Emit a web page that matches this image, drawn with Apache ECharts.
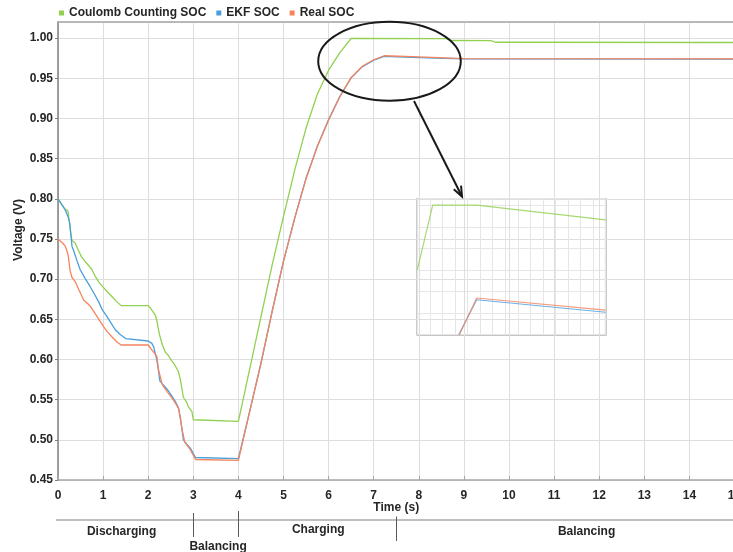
<!DOCTYPE html>
<html><head><meta charset="utf-8">
<script src="https://cdn.jsdelivr.net/npm/echarts@6/dist/echarts.min.js"></script>
<style>html,body{margin:0;padding:0;background:#fff}#c{width:733px;height:552px}</style>
</head><body><div id="c"></div>
<script>
// ---- data ----
const seriesNames = ['Coulomb Counting SOC', 'EKF SOC', 'Real SOC'];
const ccTime = [0,0.08,0.16,0.22,0.25,0.28,0.31,0.38,0.45,0.52,0.6,0.68,0.75,0.83,0.92,1.0,1.1,1.2,1.3,1.4,2.0,2.05,2.1,2.16,2.2,2.25,2.31,2.38,2.45,2.5,2.58,2.67,2.72,2.78,2.85,2.9,2.97,3.0,4.0,4.25,4.5,4.75,5.0,5.25,5.5,5.75,6.0,6.25,6.5,8.6,8.7,9.6,9.7,15];
const ccSOC = [0.80,0.793,0.787,0.785,0.772,0.758,0.748,0.745,0.736,0.728,0.722,0.717,0.712,0.703,0.695,0.69,0.684,0.678,0.672,0.667,0.667,0.664,0.66,0.655,0.646,0.631,0.619,0.609,0.605,0.60,0.594,0.585,0.573,0.553,0.547,0.54,0.535,0.525,0.523,0.588,0.653,0.718,0.778,0.836,0.888,0.93,0.960,0.982,0.9995,0.9992,0.997,0.9968,0.9948,0.9945];
const ekfTime = [0,0.08,0.16,0.22,0.26,0.31,0.35,0.42,0.49,0.6,0.7,0.79,0.9,0.98,1.08,1.18,1.27,1.38,1.5,2.0,2.08,2.12,2.19,2.23,2.26,2.34,2.42,2.53,2.6,2.67,2.72,2.78,2.85,2.93,3.05,4.0,4.25,4.5,4.75,5.0,5.25,5.5,5.75,6.0,6.25,6.5,6.75,7.0,7.23,8.0,9.0,15];
const ekfSOC = [0.80,0.793,0.786,0.778,0.77,0.741,0.735,0.723,0.712,0.701,0.692,0.683,0.672,0.662,0.654,0.645,0.637,0.631,0.626,0.623,0.62,0.616,0.60,0.585,0.573,0.568,0.563,0.554,0.548,0.54,0.525,0.50,0.495,0.49,0.478,0.4765,0.5355,0.5955,0.6605,0.7225,0.7765,0.8255,0.8655,0.8985,0.9275,0.9505,0.9645,0.9725,0.9772,0.9757,0.9742,0.9738];
const realTime = [0,0.1,0.16,0.2,0.23,0.27,0.31,0.38,0.46,0.57,0.65,0.72,0.86,1.01,1.1,1.2,1.3,1.4,2.0,2.08,2.15,2.19,2.23,2.31,2.42,2.53,2.6,2.68,2.75,2.81,2.93,3.05,4.0,4.25,4.5,4.75,5.0,5.25,5.5,5.75,6.0,6.25,6.5,6.75,7.0,7.23,8.0,9.0,15];
const realSOC = [0.75,0.745,0.741,0.735,0.728,0.71,0.702,0.697,0.687,0.674,0.670,0.666,0.654,0.641,0.634,0.628,0.622,0.618,0.618,0.612,0.607,0.604,0.587,0.569,0.56,0.552,0.546,0.538,0.513,0.497,0.488,0.4755,0.4745,0.535,0.595,0.66,0.722,0.776,0.825,0.865,0.898,0.927,0.951,0.965,0.973,0.978,0.9765,0.9745,0.974];
// zoomed inset (detail of the circled region)
const insetCCTime = [6.2,6.445,7.146,9.2];
const insetCCSOC = [0.985,1.0,1.0,0.9966];
const insetEKFTime = [6.86,7.146,9.2];
const insetEKFSOC = [0.97,0.9781,0.9752];
const insetRealTime = [6.869,7.146,9.2];
const insetRealSOC = [0.97,0.9785,0.9757];
// phases shown under the time axis
const phaseBounds = [3, 4, 7.5];
const phaseNames = ['Discharging', 'Balancing', 'Charging', 'Balancing'];
const phaseLabelTime = [1.41, 3.55, 5.77, 11.72];

const colors = ['#92d050', '#4a9ede', '#f5845c'];
const font = "'Liberation Sans', Arial, sans-serif";
const zip = (a, b) => a.map((t, i) => [t, b[i]]);

const chart = echarts.init(document.getElementById('c'), null, {renderer: 'canvas'});
const lbl = {fontFamily: font, fontWeight: 'bold', fontSize: 12, color: '#262626'};

const mainLine = (name, data, c) => ({
  name, type: 'line', data, xAxisIndex: 0, yAxisIndex: 0, showSymbol: false,
  lineStyle: {color: c, width: 1.3}, itemStyle: {color: c}, animation: false
});
const insetLine = (name, data, c) => ({
  name, type: 'line', data, xAxisIndex: 2, yAxisIndex: 1, showSymbol: false,
  lineStyle: {color: c, width: 1.2, opacity: 0.8}, itemStyle: {color: c}, animation: false, silent: true
});

chart.setOption({
  animation: false,
  backgroundColor: '#fff',
  color: colors,
  legend: {
    data: seriesNames, left: 59, top: 7, padding: 0, itemGap: 10,
    icon: 'rect', itemWidth: 5, itemHeight: 5,
    textStyle: {fontFamily: font, fontWeight: 'bold', fontSize: 12, color: '#262626'}
  },
  grid: [
    {left: 58, width: 676.5, top: 22, bottom: 72, containLabel: false, outerBoundsMode: 'none'},
    {left: 417.3, top: 198.7, width: 188.4, height: 136, show: true, outerBoundsMode: 'none',
     borderColor: '#8c8c8c', borderWidth: 1.5, backgroundColor: 'rgba(0,0,0,0)'}
  ],
  xAxis: [
    {type: 'value', gridIndex: 0, min: 0, max: 15, interval: 1,
     name: 'Time (s)', nameLocation: 'middle', nameGap: 22, nameMoveOverlap: false,
     nameTextStyle: lbl,
     axisLine: {lineStyle: {color: '#a6a6a6', width: 1.5}},
     axisTick: {inside: true, length: 4, lineStyle: {color: '#a6a6a6'}},
     axisLabel: Object.assign({margin: 10}, lbl),
     splitLine: {show: true, lineStyle: {color: '#dedede', width: 1}}},
    {type: 'value', gridIndex: 0, min: 0, max: 15, position: 'top',
     axisLine: {show: true, lineStyle: {color: '#a6a6a6', width: 1.5}},
     axisTick: {show: false}, axisLabel: {show: false}, splitLine: {show: false}},
    {type: 'value', gridIndex: 1, min: 6.2, max: 9.2, interval: 0.2,
     axisLine: {show: false}, axisTick: {show: false}, axisLabel: {show: false},
     splitLine: {show: true, lineStyle: {color: '#e6e6e6', width: 1}}}
  ],
  yAxis: [
    {type: 'value', gridIndex: 0, min: 0.45, max: 1.02, interval: 0.05,
     axisLine: {show: true, lineStyle: {color: '#808080', width: 1.5}},
     axisTick: {show: true, length: 3, lineStyle: {color: '#808080'}},
     axisLabel: Object.assign({margin: 5, showMaxLabel: false,
       formatter: v => v.toFixed(2)}, lbl),
     splitLine: {show: true, lineStyle: {color: '#dedede', width: 1}}},
    {type: 'value', gridIndex: 1, min: 0.97, max: 1.0015, interval: 0.005,
     axisLine: {show: false}, axisTick: {show: false}, axisLabel: {show: false},
     splitLine: {show: true, lineStyle: {color: '#e6e6e6', width: 1}}}
  ],
  series: [
    mainLine(seriesNames[0], zip(ccTime, ccSOC), colors[0]),
    mainLine(seriesNames[1], zip(ekfTime, ekfSOC), colors[1]),
    mainLine(seriesNames[2], zip(realTime, realSOC), colors[2]),
    insetLine(seriesNames[0], zip(insetCCTime, insetCCSOC), colors[0]),
    insetLine(seriesNames[1], zip(insetEKFTime, insetEKFSOC), colors[1]),
    insetLine(seriesNames[2], zip(insetRealTime, insetRealSOC), colors[2])
  ]
});

// ---- annotations ----
const px = t => chart.convertToPixel({xAxisIndex: 0}, t);
const g = [];
// y axis title
g.push({type: 'text', x: 18.5, y: 230, rotation: Math.PI / 2,
  style: {text: 'Voltage (V)', font: "bold 12px " + font, fill: '#262626', align: 'center', verticalAlign: 'middle'}});
// ellipse highlighting the peak region
g.push({type: 'ellipse', shape: {cx: 389.5, cy: 61.3, rx: 71.3, ry: 39.5},
  style: {fill: 'none', stroke: '#1a1a1a', lineWidth: 2}, z: 10});
// arrow to inset
const a0 = [414, 101], a1 = [462, 196.5];
const dx = a1[0] - a0[0], dy = a1[1] - a0[1], L = Math.hypot(dx, dy);
const ux = dx / L, uy = dy / L, hl = 11, ang = 0.38;
const rot = (x, y, a) => [x * Math.cos(a) - y * Math.sin(a), x * Math.sin(a) + y * Math.cos(a)];
const h1 = rot(-ux * hl, -uy * hl, ang), h2 = rot(-ux * hl, -uy * hl, -ang);
g.push({type: 'line', shape: {x1: a0[0], y1: a0[1], x2: a1[0], y2: a1[1]}, style: {stroke: '#1a1a1a', lineWidth: 2}, z: 10});
g.push({type: 'polyline', shape: {points: [[a1[0] + h1[0], a1[1] + h1[1]], a1, [a1[0] + h2[0], a1[1] + h2[1]]]},
  style: {stroke: '#1a1a1a', lineWidth: 2, fill: 'none'}, z: 10});
// phase bar
g.push({type: 'line', shape: {x1: 56, y1: 520, x2: 733, y2: 520}, style: {stroke: '#bfbfbf', lineWidth: 2}});
const vSpans = [[513, 537], [511, 537], [516.5, 541]];
phaseBounds.forEach((t, i) => {
  const x = Math.round(px(t)) + 0.5;
  g.push({type: 'line', shape: {x1: x, y1: vSpans[i][0], x2: x, y2: vSpans[i][1]}, style: {stroke: '#595959', lineWidth: 1}});
});
const phaseY = [531.5, 546.5, 530, 531.5];
phaseNames.forEach((n, i) => {
  g.push({type: 'text', x: px(phaseLabelTime[i]), y: phaseY[i],
    style: {text: n, font: "bold 12px " + font, fill: '#262626', align: 'center', verticalAlign: 'middle'}});
});
chart.setOption({graphic: g});
</script>
</body></html>
